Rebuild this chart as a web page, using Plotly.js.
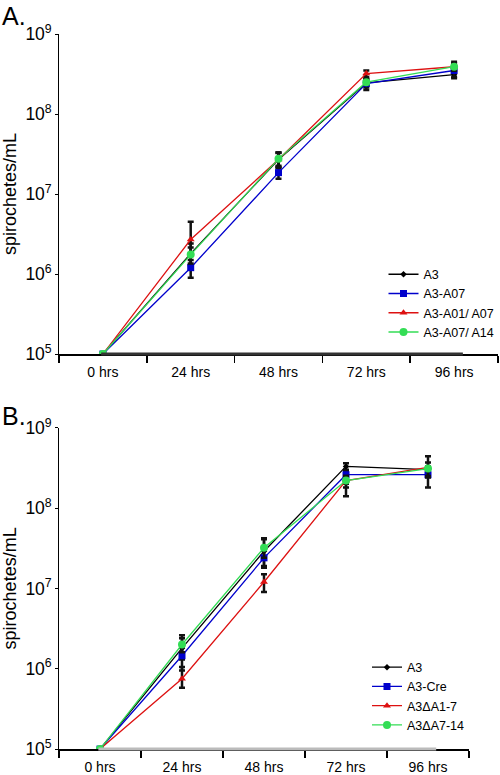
<!DOCTYPE html>
<html><head><meta charset="utf-8">
<script src="https://cdn.plot.ly/plotly-3.0.1.min.js"></script>
<style>body{margin:0;padding:0;background:#fff}#plot{width:500px;height:775px}</style>
</head><body><div id="plot"></div>
<script>
const timepoints = ["0 hrs", "24 hrs", "48 hrs", "72 hrs", "96 hrs"];

// Panel A
const namesA = ["A3", "A3-A07", "A3-A01/ A07", "A3-A07/ A14"];
const a_A3     = [1e5, 1.8e6, 2.7e7, 2.45e8, 3.1e8];
const a_A07    = [1e5, 1.2e6, 1.85e7, 2.4e8, 3.5e8];
const a_A01A07 = [1e5, 2.7e6, 2.7e7, 3.2e8, 3.9e8];
const a_A07A14 = [1e5, 1.75e6, 2.75e7, 2.5e8, 3.9e8];
const a_A3_ep     = [0, 0.6e6, 0.6e7, 0.3e8, 0.3e8];
const a_A3_em     = [0, 0.5e6, 0.6e7, 0.3e8, 0.3e8];
const a_A07_ep    = [0, 0.3e6, 0.3e7, 0.3e8, 0.4e8];
const a_A07_em    = [0, 0.3e6, 0.3e7, 0.4e8, 0.6e8];
const a_A01A07_ep = [0, 1.8e6, 0.6e7, 0.3e8, 0.6e8];
const a_A01A07_em = [0, 1.0e6, 0.5e7, 0.3e8, 0.4e8];
const a_A07A14_ep = [0, 0.4e6, 0.5e7, 0.2e8, 0.4e8];
const a_A07A14_em = [0, 0.4e6, 0.5e7, 0.2e8, 0.4e8];

// Panel B
const namesB = ["A3", "A3-Cre", "A3\u0394A1-7", "A3\u0394A7-14"];
const b_A3    = [1e5, 1.8e6, 2.9e7, 3.3e8, 3.0e8];
const b_Cre   = [1e5, 1.45e6, 2.4e7, 2.6e8, 2.6e8];
const b_dA1_7 = [1e5, 7.5e5, 1.2e7, 2.2e8, 3.2e8];
const b_dA7_14= [1e5, 2.0e6, 3.2e7, 2.2e8, 3.1e8];
const b_A3_ep    = [0, 0.6e6, 1.2e7, 0.3e8, 0.3e8];
const b_A3_em    = [0, 0.5e6, 1.0e7, 0.3e8, 0.3e8];
const b_Cre_ep   = [0, 0.4e6, 0.6e7, 0.3e8, 0.3e8];
const b_Cre_em   = [0, 0.5e6, 0.6e7, 0.6e8, 0.8e8];
const b_dA1_7_ep = [0, 0.3e6, 0.3e7, 0.3e8, 0.5e8];
const b_dA1_7_em = [0, 1.7e5, 0.3e7, 0.8e8, 0.8e8];
const b_dA7_14_ep= [0, 0.6e6, 1.0e7, 0.3e8, 1.3e8];
const b_dA7_14_em= [0, 0.4e6, 0.8e7, 0.4e8, 0.6e8];

const colors = ["#000000", "#0000cc", "#dd1111", "#33dd55"];
const symbols = ["diamond", "square", "triangle-up", "circle"];
const msizes = [5, 7, 7, 8];

function mk(y, ep, em, i, name, xa, ya, lg) {
  return {
    x: timepoints, y: y, name: name, type: "scatter", mode: "lines+markers",
    xaxis: xa, yaxis: ya, legend: lg,
    line: {color: colors[i], width: 1.3},
    marker: {color: colors[i], symbol: symbols[i], size: msizes[i]},
    error_y: {type: "data", symmetric: false, array: ep, arrayminus: em, color: "#111", thickness: 2.5, width: 3}
  };
}

const data = [
  mk(a_A3, a_A3_ep, a_A3_em, 0, namesA[0], "x", "y", "legend"),
  mk(a_A07, a_A07_ep, a_A07_em, 1, namesA[1], "x", "y", "legend"),
  mk(a_A01A07, a_A01A07_ep, a_A01A07_em, 2, namesA[2], "x", "y", "legend"),
  mk(a_A07A14, a_A07A14_ep, a_A07A14_em, 3, namesA[3], "x", "y", "legend"),
  mk(b_A3, b_A3_ep, b_A3_em, 0, namesB[0], "x2", "y2", "legend2"),
  mk(b_Cre, b_Cre_ep, b_Cre_em, 1, namesB[1], "x2", "y2", "legend2"),
  mk(b_dA1_7, b_dA1_7_ep, b_dA1_7_em, 2, namesB[2], "x2", "y2", "legend2"),
  mk(b_dA7_14, b_dA7_14_ep, b_dA7_14_em, 3, namesB[3], "x2", "y2", "legend2")
];

const font = {family: "Liberation Sans, Arial, sans-serif", size: 14, color: "#000"};
function xax(dom, anchor) {
  return {domain: dom, anchor: anchor, type: "category", range: [-0.5, 4.5], tickson: "boundaries",
    ticks: "outside", ticklen: 7, tickwidth: 1.5, tickcolor: "#000", showline: true, linecolor: "#000", linewidth: 1.5,
    ticklabelstandoff: 5,
    showgrid: false, zeroline: false, tickfont: {family: font.family, size: 14, color: "#000"}, fixedrange: true};
}
function yax(dom, anchor) {
  return {domain: dom, anchor: anchor, type: "log", range: [5, 9], dtick: 1, exponentformat: "power",
    ticks: "outside", ticklen: 3, tickwidth: 1, tickcolor: "#000", showline: true, linecolor: "#000", linewidth: 1.5,
    showgrid: false, zeroline: false, tickfont: {family: font.family, size: 14, color: "#000"},
    title: {text: "spirochetes/mL", font: {family: font.family, size: 18, color: "#000"}, standoff: 4}};
}

const layout = {
  width: 500, height: 775, margin: {l: 0, r: 0, t: 0, b: 0},
  paper_bgcolor: "#fff", plot_bgcolor: "#fff", font: font, showlegend: true,
  xaxis: xax([0.118, 0.996], "y"),
  yaxis: yax([0.5432, 0.9561], "x"),
  xaxis2: xax([0.118, 0.938], "y2"),
  yaxis2: yax([0.0335, 0.4481], "x2"),
  legend: {x: 0.767, y: 0.665, xanchor: "left", yanchor: "top", bgcolor: "rgba(0,0,0,0)",
    font: {family: font.family, size: 12.5, color: "#000"}, tracegroupgap: 0, itemwidth: 30},
  legend2: {x: 0.734, y: 0.158, xanchor: "left", yanchor: "top", bgcolor: "rgba(0,0,0,0)",
    font: {family: font.family, size: 12.5, color: "#000"}, tracegroupgap: 0, itemwidth: 30},
  shapes: [
    {type: "line", xref: "x", yref: "paper", x0: -0.02, x1: 4.1, y0: 0.5432, y1: 0.5432,
     line: {color: "#333333", width: 3}, layer: "above"},
    {type: "line", xref: "x2", yref: "paper", x0: -0.02, x1: 4.1, y0: 0.0335, y1: 0.0335,
     line: {color: "#bbbbbb", width: 3}, layer: "above"}
  ],
  annotations: [
    {text: "A.", xref: "paper", yref: "paper", x: 0.0, y: 1.0, xanchor: "left", yanchor: "top", showarrow: false,
     font: {family: font.family, size: 25, color: "#000"}},
    {text: "B.", xref: "paper", yref: "paper", x: 0.0, y: 0.484, xanchor: "left", yanchor: "top", showarrow: false,
     font: {family: font.family, size: 25, color: "#000"}}
  ]
};

Plotly.newPlot("plot", data, layout, {displayModeBar: false, staticPlot: true});
</script></body></html>
